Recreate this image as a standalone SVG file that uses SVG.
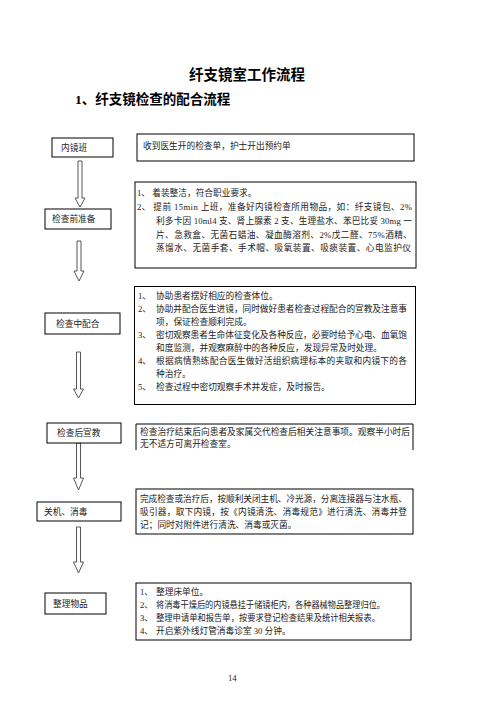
<svg xmlns="http://www.w3.org/2000/svg" width="496" height="702" viewBox="0 0 496 702">
<style>
.bx{fill:#fff;stroke:#000;stroke-width:1}
.t{font-family:"Liberation Serif","Noto Sans CJK SC",serif;font-size:8.7px;fill:#222}
.ar{fill:#fff;stroke:#444;stroke-width:0.9}
.h{font-family:"Liberation Serif","Noto Sans CJK SC",sans-serif;font-weight:bold;fill:#000}
</style>
<rect width="496" height="702" fill="#fff"/>
<text class="h" x="189" y="80" font-size="14.5">纤支镜室工作流程</text>
<text class="h" x="75" y="104" font-size="13.5">1、纤支镜检查的配合流程</text>

<g id="connectors">
<path class="ar" d="M78,161 L82,161 L82,198 L85,198 L80,207 L75,198 L78,198 Z"/>
<path class="ar" d="M77,241 L81,241 L81,271 L84,271 L79,281 L74,271 L77,271 Z"/>
<path class="ar" d="M76.5,352 L80.5,352 L80.5,389 L83.5,389 L78.5,398 L73.5,389 L76.5,389 Z"/>
<path class="ar" d="M76.5,443 L80.5,443 L80.5,478 L83.5,478 L78.5,490 L73.5,478 L76.5,478 Z"/>
<path class="ar" d="M76.5,527 L80.5,527 L80.5,562 L83.5,562 L78.5,573 L73.5,562 L76.5,562 Z"/>
</g>

<g id="n1">
<rect class="bx" x="52" y="138" width="61" height="19"/>
<text class="t" x="61" y="150.5">内镜班</text>
</g>
<g id="d1">
<rect class="bx" x="137" y="134" width="277" height="27"/>
<text class="t" x="143" y="148.5">收到医生开的检查单，护士开出预约单</text>
</g>

<g id="n2">
<rect class="bx" x="45" y="209" width="66" height="20"/>
<text class="t" x="52" y="222">检查前准备</text>
</g>
<g id="d2">
<rect class="bx" x="135" y="182" width="281" height="86"/>
<text class="t" x="137" y="195.5">1、 着装整洁，符合职业要求。</text>
<text class="t" x="137" y="209.5" textLength="275" lengthAdjust="spacing">2、 提前 15min 上班，准备好内镜检查所用物品，如：纤支镜包、2%</text>
<text class="t" x="156" y="223.5" textLength="256" lengthAdjust="spacing">利多卡因 10ml4 支、肾上腺素 2 支、生理盐水、苯巴比妥 30mg 一</text>
<text class="t" x="156" y="237.5" textLength="256" lengthAdjust="spacing">片、急救盒、无菌石蜡油、凝血酶溶剂、2%戊二醛、75%酒精、</text>
<text class="t" x="156" y="251" textLength="255" lengthAdjust="spacing">蒸馏水、无菌手套、手术帽、吸氧装置、吸痰装置、心电监护仪</text>
</g>

<g id="n3">
<rect class="bx" x="45" y="313" width="75" height="21"/>
<text class="t" x="56" y="326.5">检查中配合</text>
</g>
<g id="d3">
<rect class="bx" x="134.5" y="286.5" width="281" height="118"/>
<text class="t" x="138" y="298.5">1、</text>
<text class="t" x="156" y="298.5">协助患者摆好相应的检查体位。</text>
<text class="t" x="138" y="311.5">2、</text>
<text class="t" x="156" y="311.5" textLength="251" lengthAdjust="spacing">协助并配合医生进镜，同时做好患者检查过程配合的宣教及注意事</text>
<text class="t" x="156" y="324.5">项，保证检查顺利完成。</text>
<text class="t" x="138" y="337.5">3、</text>
<text class="t" x="156" y="337.5" textLength="251" lengthAdjust="spacing">密切观察患者生命体征变化及各种反应，必要时给予心电、血氧饱</text>
<text class="t" x="156" y="350.5">和度监测，并观察麻醉中的各种反应，发现异常及时处理。</text>
<text class="t" x="138" y="363.5">4、</text>
<text class="t" x="156" y="363.5" textLength="251" lengthAdjust="spacing">根据病情熟练配合医生做好活组织病理标本的夹取和内镜下的各</text>
<text class="t" x="156" y="376.5">种治疗。</text>
<text class="t" x="138" y="389.5">5、</text>
<text class="t" x="156" y="389.5">检查过程中密切观察手术并发症，及时报告。</text>
</g>

<g id="n4">
<rect class="bx" x="47" y="423" width="74" height="20"/>
<text class="t" x="57" y="436">检查后宣教</text>
</g>
<g id="d4">
<path d="M136,450 L136,424 L413,424 L413,450" fill="none" stroke="#000" stroke-width="1"/>
<text class="t" x="140" y="434.5" textLength="270" lengthAdjust="spacing">检查治疗结束后向患者及家属交代检查后相关注意事项。观察半小时后</text>
<text class="t" x="140" y="446.5">无不适方可离开检查室。</text>
</g>

<g id="n5">
<rect class="bx" x="37" y="502" width="84" height="19"/>
<text class="t" x="44" y="515">关机、消毒</text>
</g>
<g id="d5">
<rect class="bx" x="136" y="489" width="277" height="45"/>
<text class="t" x="140" y="502" textLength="267" lengthAdjust="spacing">完成检查或治疗后，按顺利关闭主机、冷光源，分离连接器与注水瓶、</text>
<text class="t" x="140" y="515" textLength="267" lengthAdjust="spacing">吸引器，取下内镜，按《内镜清洗、消毒规范》进行清洗、消毒并登</text>
<text class="t" x="140" y="528">记；同时对附件进行清洗、消毒或灭菌。</text>
</g>

<g id="n6">
<rect class="bx" x="45" y="593" width="61" height="21"/>
<text class="t" x="53" y="606.5">整理物品</text>
</g>
<g id="d6">
<rect class="bx" x="136" y="583" width="275" height="57"/>
<text class="t" x="140" y="594.5">1、</text>
<text class="t" x="156" y="594.5">整理床单位。</text>
<text class="t" x="140" y="607.5">2、</text>
<text class="t" x="156" y="607.5" textLength="229" lengthAdjust="spacingAndGlyphs">将消毒干燥后的内镜悬挂于储镜柜内，各种器械物品整理归位。</text>
<text class="t" x="140" y="620.5">3、</text>
<text class="t" x="156" y="620.5" textLength="224" lengthAdjust="spacingAndGlyphs">整理申请单和报告单，按要求登记检查结果及统计相关报表。</text>
<text class="t" x="140" y="633.5">4、</text>
<text class="t" x="156" y="633.5">开启紫外线灯管消毒诊室 30 分钟。</text>
</g>

<text class="t" x="228" y="681" font-size="7">14</text>
</svg>
